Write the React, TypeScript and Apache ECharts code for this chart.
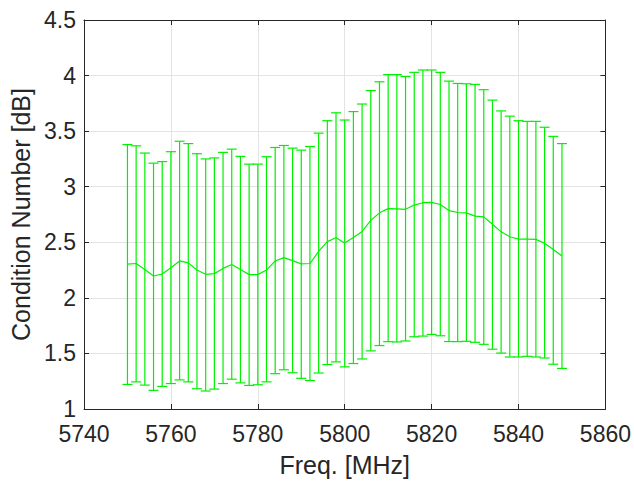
import React, { useEffect, useRef } from "react";
import * as echarts from "echarts";

const freqs = [
  5750, 5752, 5754, 5756, 5758, 5760, 5762, 5764, 5766, 5768, 5770, 5772, 5774, 5776, 5778, 5780, 5782, 5784,
  5786, 5788, 5790, 5792, 5794, 5796, 5798, 5800, 5802, 5804, 5806, 5808, 5810, 5812, 5814, 5816, 5818, 5820, 5822, 5824,
  5826, 5828, 5830, 5832, 5834, 5836, 5838, 5840, 5842, 5844, 5846, 5848, 5850,
];

const upper = [
  3.379, 3.368, 3.303, 3.212, 3.226, 3.315, 3.409, 3.388, 3.297, 3.25, 3.259, 3.309, 3.338, 3.273, 3.203, 3.203, 3.27, 3.353,
  3.371, 3.347, 3.329, 3.362, 3.482, 3.594, 3.665, 3.6, 3.676, 3.744, 3.865, 3.944, 4.009, 4.009, 3.991, 4.029, 4.05, 4.05, 4.029, 3.95,
  3.929, 3.926, 3.921, 3.873, 3.779, 3.682, 3.635, 3.594, 3.588, 3.588, 3.535, 3.453, 3.388,
];

const lower = [
  1.221, 1.244, 1.215, 1.168, 1.203, 1.229, 1.262, 1.244, 1.182, 1.162, 1.179, 1.229, 1.268, 1.235, 1.212, 1.218, 1.244, 1.318,
  1.353, 1.326, 1.276, 1.256, 1.324, 1.4, 1.424, 1.379, 1.409, 1.45, 1.523, 1.571, 1.606, 1.603, 1.612, 1.65, 1.656, 1.671, 1.659, 1.607,
  1.606, 1.609, 1.6, 1.582, 1.538, 1.503, 1.468, 1.468, 1.474, 1.468, 1.459, 1.403, 1.365,
];

const mean = [
  2.303, 2.309, 2.256, 2.197, 2.215, 2.271, 2.332, 2.315, 2.25, 2.212, 2.218, 2.265, 2.3, 2.256, 2.209, 2.209, 2.25, 2.332,
  2.362, 2.335, 2.306, 2.309, 2.418, 2.506, 2.541, 2.494, 2.544, 2.597, 2.697, 2.765, 2.803, 2.8, 2.797, 2.835, 2.856, 2.859, 2.84, 2.785,
  2.768, 2.765, 2.735, 2.729, 2.662, 2.594, 2.55, 2.529, 2.529, 2.526, 2.491, 2.435, 2.376,
];

const GREEN = "#00f000";
const AXIS = "#262626";
const GRID = "#e3e3e3";
const FONT = "'Liberation Sans', Arial, Helvetica, sans-serif";

export default function App() {
  const ref = useRef<HTMLDivElement>(null);

  useEffect(() => {
    if (!ref.current) return;
    const chart = echarts.init(ref.current, null, { renderer: "svg" });

    const errData = freqs.map((f, i) => [f, lower[i], upper[i]]);
    const meanData = freqs.map((f, i) => [f, mean[i]]);

    const baseAxis = {
      axisLine: { show: true, onZero: false, lineStyle: { color: AXIS, width: 1 } },
      axisTick: { show: true, inside: true, length: 5, lineStyle: { color: AXIS, width: 1 } },
    };

    chart.setOption({
      animation: false,
      backgroundColor: "#ffffff",
      grid: { left: 84, top: 20, right: 28, bottom: 66, containLabel: false },
      xAxis: [
        {
          type: "value",
          min: 5740,
          max: 5860,
          interval: 20,
          position: "bottom",
          ...baseAxis,
          axisLabel: {
            color: AXIS,
            fontSize: 23,
            fontFamily: FONT,
            margin: 13,
            formatter: (v: number) => String(v),
          },
          splitLine: { show: true, lineStyle: { color: GRID, width: 1 } },
          name: "Freq. [MHz]",
          nameLocation: "middle",
          nameGap: 43,
          nameTextStyle: { color: AXIS, fontSize: 25, fontFamily: FONT },
        },
        {
          type: "value",
          min: 5740,
          max: 5860,
          interval: 20,
          position: "top",
          ...baseAxis,
          axisLabel: { show: false },
          splitLine: { show: false },
        },
      ],
      yAxis: [
        {
          type: "value",
          min: 1,
          max: 4.5,
          interval: 0.5,
          position: "left",
          ...baseAxis,
          axisLabel: {
            color: AXIS,
            fontSize: 23,
            fontFamily: FONT,
            margin: 8,
            formatter: (v: number) => String(v),
          },
          splitLine: { show: true, lineStyle: { color: GRID, width: 1 } },
          name: "Condition Number [dB]",
          nameLocation: "middle",
          nameGap: 49,
          nameTextStyle: { color: AXIS, fontSize: 25, fontFamily: FONT },
        },
        {
          type: "value",
          min: 1,
          max: 4.5,
          interval: 0.5,
          position: "right",
          ...baseAxis,
          axisLabel: { show: false },
          splitLine: { show: false },
        },
      ],
      series: [
        {
          type: "custom",
          xAxisIndex: 0,
          yAxisIndex: 0,
          data: errData,
          encode: { x: 0, y: [1, 2] },
          renderItem: (params: any, api: any) => {
            const x = api.value(0);
            const lo = api.coord([x, api.value(1)]);
            const hi = api.coord([x, api.value(2)]);
            const hw = 5;
            const style = { stroke: GREEN, lineWidth: 1.2, fill: "none" };
            return {
              type: "group",
              children: [
                { type: "line", shape: { x1: lo[0], y1: lo[1], x2: hi[0], y2: hi[1] }, style },
                { type: "line", shape: { x1: lo[0] - hw, y1: lo[1], x2: lo[0] + hw, y2: lo[1] }, style },
                { type: "line", shape: { x1: hi[0] - hw, y1: hi[1], x2: hi[0] + hw, y2: hi[1] }, style },
              ],
            };
          },
          z: 3,
        },
        {
          type: "line",
          xAxisIndex: 0,
          yAxisIndex: 0,
          data: meanData,
          showSymbol: false,
          symbol: "none",
          lineStyle: { color: GREEN, width: 1.2 },
          z: 4,
        },
      ],
    });

    return () => chart.dispose();
  }, []);

  return (
    <div
      ref={ref}
      style={{ position: "fixed", left: 0, top: 0, width: 634, height: 482, background: "#fff" }}
    />
  );
}
